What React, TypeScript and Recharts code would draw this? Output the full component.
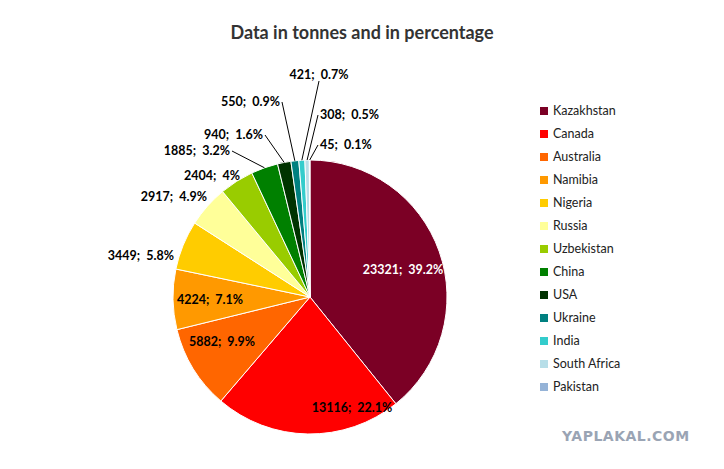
import React from 'react'
import { PieChart, Pie, Cell, Legend } from 'recharts'

const countries = ['Kazakhstan', 'Canada', 'Australia', 'Namibia', 'Nigeria', 'Russia', 'Uzbekistan', 'China', 'USA', 'Ukraine', 'India', 'South Africa', 'Pakistan']
const tonnes = [23321, 13116, 5882, 4224, 3449, 2917, 2404, 1885, 940, 550, 421, 308, 45]
const percents = ['39.2%', '22.1%', '9.9%', '7.1%', '5.8%', '4.9%', '4%', '3.2%', '1.6%', '0.9%', '0.7%', '0.5%', '0.1%']
const colors = ['#7B0025', '#FF0000', '#FF6600', '#FF9900', '#FFCC00', '#FFFF99', '#99CC00', '#008000', '#003300', '#008080', '#33CCCC', '#B7DEE8', '#95B3D7']

// label placement relative to pie centre: [dx, dy, anchor, leader]
const labelLayout: [number, number, string, boolean][] = [
  [93, -27, 'middle', false],
  [42, 111, 'middle', false],
  [-88, 45, 'middle', false],
  [-100, 3, 'middle', false],
  [-136, -41, 'end', false],
  [-103, -100, 'end', false],
  [-70, -121, 'end', false],
  [-80, -146, 'end', true],
  [-47, -162, 'end', true],
  [-30, -195, 'end', true],
  [9, -222, 'middle', true],
  [10, -182, 'start', true],
  [10, -152, 'start', true],
]

const data = countries.map((name, i) => ({ name, value: tonnes[i], pct: percents[i] }))
const font = 'Lato, "Open Sans", sans-serif'

const renderLabel = (p: any) => {
  const { cx, cy, midAngle, outerRadius, index } = p
  const [dx, dy, anchor, leader] = labelLayout[index]
  const rad = Math.PI / 180
  const ex = cx + outerRadius * Math.cos(-midAngle * rad)
  const ey = cy + outerRadius * Math.sin(-midAngle * rad)
  const tx = cx + dx
  const ty = cy + dy
  const lx = anchor === 'end' ? tx + 2 : anchor === 'start' ? tx - 2 : tx
  const ly = anchor === 'middle' ? ty + 6 : ty
  return (
    <g>
      {leader && <line x1={lx} y1={ly} x2={ex} y2={ey} stroke="#000" strokeWidth={1} />}
      <text x={tx} y={ty} dy={4} textAnchor={anchor} fontFamily={font} fontSize={12.5} fontWeight="bold" fill={index === 0 ? '#fff' : '#000'} style={{ whiteSpace: 'pre' }}>
        {`${data[index].value};  ${data[index].pct}`}
      </text>
    </g>
  )
}

const renderLegend = () => (
  <div style={{ fontFamily: font, fontSize: 12.5, color: '#222' }}>
    {data.map((d, i) => (
      <div key={d.name} style={{ display: 'flex', alignItems: 'center', height: 23 }}>
        <span style={{ width: 8, height: 8, background: colors[i], marginRight: 5, display: 'inline-block' }} />
        {d.name}
      </div>
    ))}
  </div>
)

export default function App() {
  return (
    <div style={{ position: 'absolute', left: 0, top: 0, width: 724, height: 469, background: '#fff' }}>
      <div style={{ position: 'absolute', top: 21, width: 724, textAlign: 'center', fontFamily: font, fontWeight: 'bold', fontSize: 18, color: '#333' }}>
        Data in tonnes and in percentage
      </div>
      <PieChart width={724} height={469} margin={{ top: 0, right: 0, bottom: 0, left: 0 }}>
        <Pie data={data} dataKey="value" cx={310} cy={297} outerRadius={137} startAngle={90} endAngle={-270}
          stroke="#fff" strokeWidth={1} label={renderLabel} labelLine={false} isAnimationActive={false}>
          {data.map((d, i) => <Cell key={d.name} fill={colors[i]} />)}
        </Pie>
        <Legend content={renderLegend} layout="vertical" wrapperStyle={{ left: 540, top: 99, width: 150 }} />
      </PieChart>
      <div style={{ position: 'absolute', left: 562, top: 428, fontFamily: '"DejaVu Sans", sans-serif', fontWeight: 'bold', fontSize: 14, color: '#9aa4b4', letterSpacing: 0.5 }}>
        YAPLAKAL.COM
      </div>
    </div>
  )
}
